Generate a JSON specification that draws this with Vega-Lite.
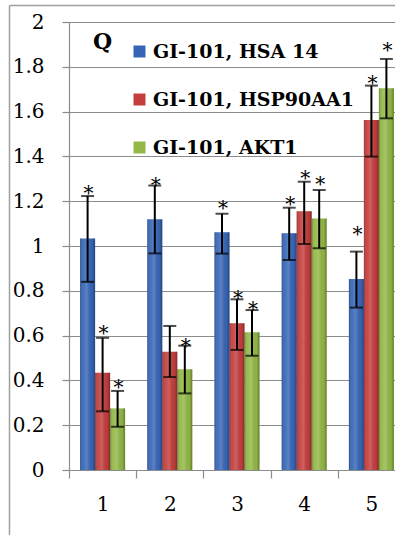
{
  "$schema": "https://vega.github.io/schema/vega-lite/v6.json",
  "width": 326,
  "height": 448,
  "autosize": {"type": "none"},
  "padding": {"left": 69, "top": 22, "right": 0, "bottom": 65},
  "background": "white",
  "config": {
    "view": {"stroke": null},
    "font": "DejaVu Serif",
    "axis": {"labelFont": "DejaVu Serif", "labelColor": "black", "labelFontSize": 20, "domainColor": "#8c8c8c", "tickColor": "#8c8c8c", "gridColor": "#8c8c8c", "domainWidth": 1.2, "tickWidth": 1.2, "gridWidth": 1.2}
  },
  "data": {
    "values": [
      {"cat": "1", "series": "GI-101, HSA 14", "value": 1.034, "lo": 0.84, "hi": 1.223, "star": 1.259},
      {"cat": "1", "series": "GI-101, HSP90AA1", "value": 0.434, "lo": 0.262, "hi": 0.59, "star": 0.634},
      {"cat": "1", "series": "GI-101, AKT1", "value": 0.275, "lo": 0.193, "hi": 0.353, "star": 0.394},
      {"cat": "2", "series": "GI-101, HSA 14", "value": 1.119, "lo": 0.967, "hi": 1.27, "star": 1.295},
      {"cat": "2", "series": "GI-101, HSP90AA1", "value": 0.528, "lo": 0.415, "hi": 0.643, "star": null},
      {"cat": "2", "series": "GI-101, AKT1", "value": 0.45, "lo": 0.342, "hi": 0.555, "star": 0.576},
      {"cat": "3", "series": "GI-101, HSA 14", "value": 1.061, "lo": 0.966, "hi": 1.144, "star": 1.193},
      {"cat": "3", "series": "GI-101, HSP90AA1", "value": 0.655, "lo": 0.536, "hi": 0.762, "star": 0.792},
      {"cat": "3", "series": "GI-101, AKT1", "value": 0.615, "lo": 0.51, "hi": 0.714, "star": 0.741},
      {"cat": "4", "series": "GI-101, HSA 14", "value": 1.057, "lo": 0.9375, "hi": 1.171, "star": 1.21},
      {"cat": "4", "series": "GI-101, HSP90AA1", "value": 1.155, "lo": 1.009, "hi": 1.287, "star": 1.327},
      {"cat": "4", "series": "GI-101, AKT1", "value": 1.123, "lo": 0.99, "hi": 1.25, "star": 1.299},
      {"cat": "5", "series": "GI-101, HSA 14", "value": 0.853, "lo": 0.725, "hi": 0.975, "star": 1.075},
      {"cat": "5", "series": "GI-101, HSP90AA1", "value": 1.5625, "lo": 1.399, "hi": 1.716, "star": 1.75},
      {"cat": "5", "series": "GI-101, AKT1", "value": 1.704, "lo": 1.57, "hi": 1.835, "star": 1.897}
    ]
  },
  "layer": [
    {
      "encoding": {
        "x": {"field": "cat", "type": "ordinal", "title": null,
          "scale": {"range": [0, 336], "paddingInner": 0, "paddingOuter": 0},
          "axis": {"tickBand": "extent", "labelAngle": 0, "tickSize": 8, "labelPadding": 16, "domainColor": "#8c8c8c"}},
        "xOffset": {"field": "series", "type": "nominal",
          "scale": {"domain": ["GI-101, HSA 14", "GI-101, HSP90AA1", "GI-101, AKT1"], "paddingInner": 0, "paddingOuter": 0.74}}
      },
      "layer": [
        {
          "mark": {"type": "bar"},
          "encoding": {
            "y": {"field": "value", "type": "quantitative", "title": null,
              "scale": {"domain": [0, 2], "nice": false},
              "axis": {"values": [0, 0.2, 0.4, 0.6, 0.8, 1, 1.2, 1.4, 1.6, 1.8, 2], "format": ".1~f", "tickSize": 7, "labelPadding": 18, "grid": true}},
            "color": {"field": "series", "type": "nominal",
              "scale": {"domain": ["GI-101, HSA 14", "GI-101, HSP90AA1", "GI-101, AKT1"], "range": ["#3766b8", "#c33e3d", "#93b846"]},
              "legend": {"orient": "none", "legendX": 24, "legendY": 20, "title": "Q", "titleOrient": "left", "titleAnchor": "start", "titleFont": "DejaVu Serif", "titleFontSize": 22, "titleFontWeight": "bold", "titleColor": "black", "titlePadding": 17, "titleBaseline": "middle",
                "labelFont": "DejaVu Serif", "labelFontSize": 19, "labelFontWeight": "bold", "labelColor": "black", "labelLimit": 400,
                "symbolType": "square", "symbolSize": 144, "symbolStrokeWidth": 0, "symbolOpacity": 1, "labelOffset": 4, "rowPadding": 28}}
          }
        },
        {
          "mark": {"type": "bar", "fill": {"gradient": "linear", "x1": 0, "y1": 0, "x2": 1, "y2": 0,
            "stops": [
              {"offset": 0, "color": "rgba(0,0,0,0.3)"},
              {"offset": 0.18, "color": "rgba(255,255,255,0.05)"},
              {"offset": 0.45, "color": "rgba(255,255,255,0.18)"},
              {"offset": 0.8, "color": "rgba(0,0,0,0.03)"},
              {"offset": 1, "color": "rgba(0,0,0,0.32)"}
            ]}},
          "encoding": {
            "y": {"field": "value", "type": "quantitative"}
          }
        },
        {
          "mark": {"type": "rule", "color": "black", "strokeWidth": 2},
          "encoding": {
            "y": {"field": "lo", "type": "quantitative"},
            "y2": {"field": "hi"}
          }
        },
        {
          "mark": {"type": "tick", "color": "black", "size": 13, "thickness": 2},
          "encoding": {"y": {"field": "lo", "type": "quantitative"}}
        },
        {
          "mark": {"type": "tick", "color": "black", "size": 13, "thickness": 2},
          "encoding": {"y": {"field": "hi", "type": "quantitative"}}
        },
        {
          "transform": [{"filter": "datum.star != null"}],
          "mark": {"type": "text", "text": "*", "font": "DejaVu Serif", "fontSize": 20, "baseline": "alphabetic", "dy": 12, "dx": 1, "color": "black"},
          "encoding": {"y": {"field": "star", "type": "quantitative"}}
        }
      ]
    },
    {
      "data": {"values": [{"f": 0}]},
      "mark": {"type": "point", "opacity": 0},
      "encoding": {
        "x": {"field": "f", "type": "quantitative", "scale": {"domain": [0, 1], "range": [-60, 330]},
          "axis": {"orient": "top", "offset": 17, "ticks": false, "labels": false, "grid": false, "title": null, "domainColor": "#a0a0a0", "domainWidth": 1.5}},
        "y": {"field": "f", "type": "quantitative", "scale": {"domain": [0, 1], "range": [513, -17]},
          "axis": {"orient": "left", "offset": 60, "ticks": false, "labels": false, "grid": false, "title": null, "domainColor": "#a0a0a0", "domainWidth": 1.5}}
      }
    }
  ],
  "resolve": {"scale": {"x": "independent", "y": "independent"}, "axis": {"x": "independent", "y": "independent"}}
}
